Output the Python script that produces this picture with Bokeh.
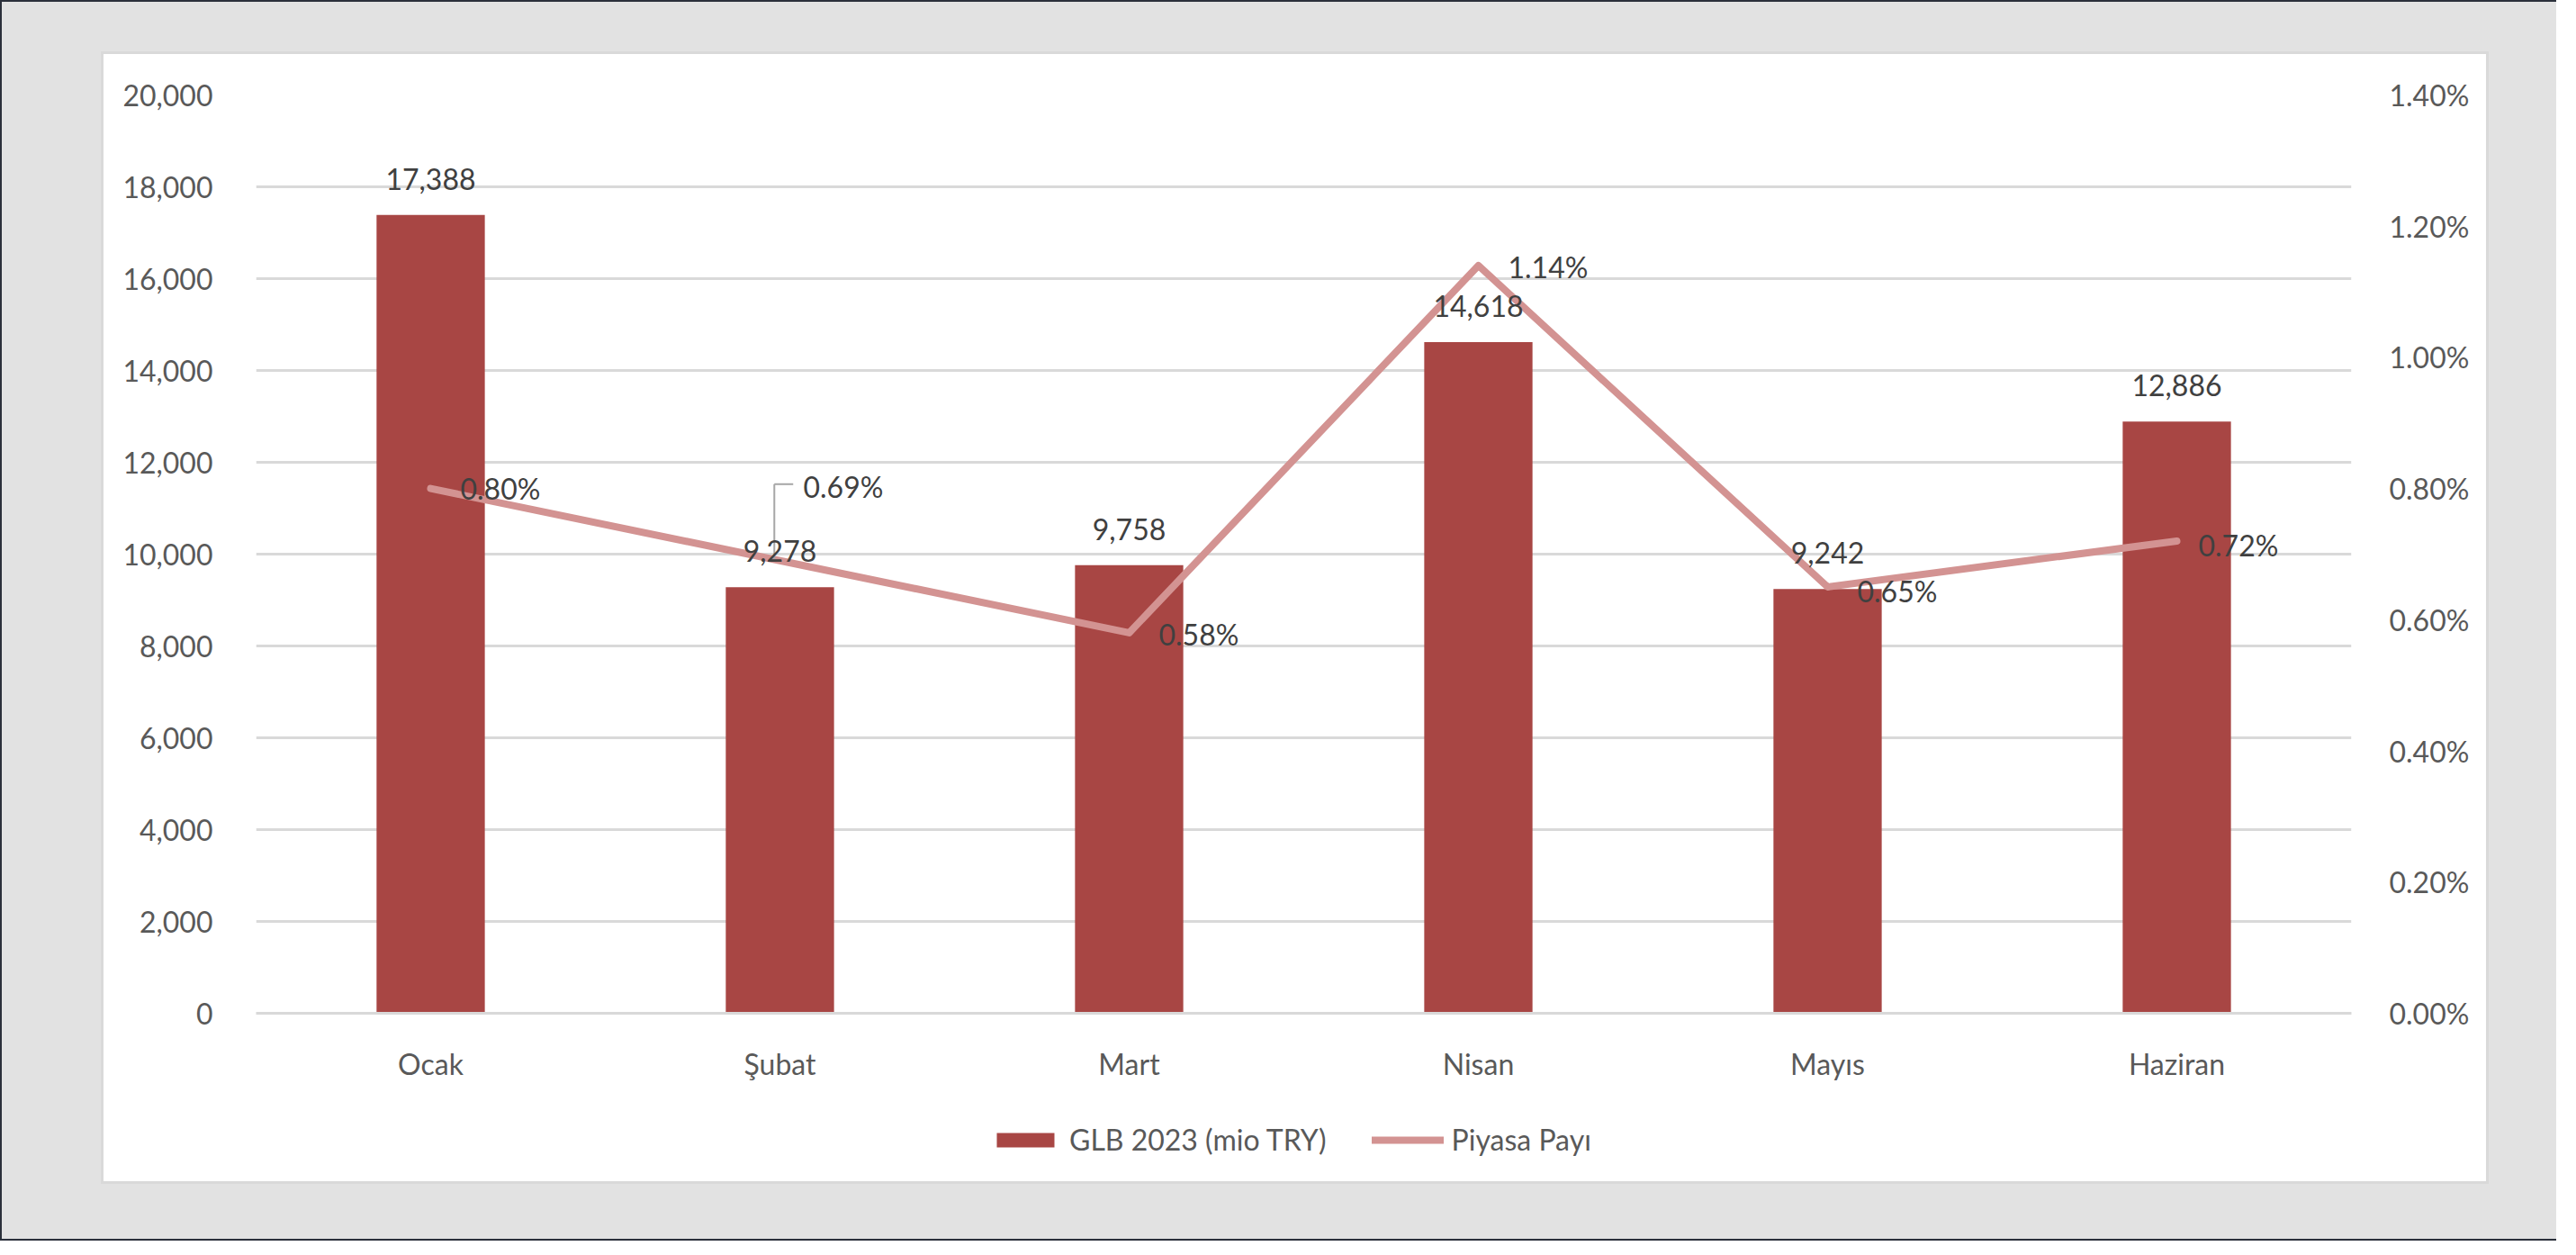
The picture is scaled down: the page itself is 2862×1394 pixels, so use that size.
from bokeh.plotting import figure
from bokeh.models import (Range1d, LinearAxis, FactorRange, FixedTicker,
                          NumeralTickFormatter, PrintfTickFormatter, Legend, LegendItem,
                          ColumnDataSource, Column)
from bokeh.transform import dodge
from bokeh.core.properties import value
from bokeh.embed import file_html
from bokeh.resources import INLINE

months = ["Ocak", "Şubat", "Mart", "Nisan", "Mayıs", "Haziran"]
glb_2023 = [17388, 9278, 9758, 14618, 9242, 12886]
piyasa_payi = [0.80, 0.69, 0.58, 1.14, 0.65, 0.72]  # percent
left_ticks = [0, 2000, 4000, 6000, 8000, 10000, 12000, 14000, 16000, 18000, 20000]
right_ticks = [0.0, 0.2, 0.4, 0.6, 0.8, 1.0, 1.2, 1.4]
bar_labels = [f"{v:,}" for v in glb_2023]
share_labels = [f"{v:.2f}%" for v in piyasa_payi]

# label placement (screen px) for share labels
share_dx = [33, 26, 33, 33, 33, 24]
share_dy = [0, -82, 2, 2, 5, 5]

FONT = "Lato"
BAR_COLOR = "#A84644"
LINE_COLOR = "#D39392"
GRID_COLOR = "#D9D9D9"
TICK_COLOR = "#595959"
LABEL_COLOR = "#404040"
FS = "32px"
FRAME_H = 1020
FIG_W = 169 + 2328 + 150

src = ColumnDataSource(dict(month=months, glb=glb_2023, share=piyasa_payi,
                            blab=bar_labels, slab=share_labels,
                            sdx=share_dx, sdy=share_dy))

p = figure(x_range=FactorRange(*months), y_range=Range1d(0, 20000),
           frame_width=2328, frame_height=FRAME_H,
           output_backend="svg", toolbar_location=None,
           min_border_left=169, min_border_right=150, min_border_top=45,
           min_border_bottom=100)
p.margin = (3, 3, 0, 3)
p.border_fill_color = "white"
p.background_fill_color = "white"
p.outline_line_color = None
p.extra_y_ranges = {"pct": Range1d(0, 1.4)}

# axes
p.yaxis.ticker = FixedTicker(ticks=left_ticks)
p.yaxis.formatter = NumeralTickFormatter(format="0,0")
ax = p.yaxis[0]
ax.axis_line_color = None
ax.major_tick_line_color = None
ax.minor_tick_line_color = None
ax.major_label_standoff = 42
ax.major_label_text_font = FONT
ax.major_label_text_font_size = FS
ax.major_label_text_color = TICK_COLOR

rax = LinearAxis(y_range_name="pct", ticker=FixedTicker(ticks=right_ticks),
                 formatter=PrintfTickFormatter(format="%.2f%%"))
rax.axis_line_color = None
rax.major_tick_line_color = None
rax.minor_tick_line_color = None
rax.major_label_standoff = 36
rax.major_label_text_font = FONT
rax.major_label_text_font_size = FS
rax.major_label_text_color = TICK_COLOR
p.add_layout(rax, "right")

xa = p.xaxis[0]
xa.axis_line_color = GRID_COLOR
xa.axis_line_width = 3
xa.major_tick_line_color = None
xa.minor_tick_line_color = None
xa.major_label_standoff = 30
xa.major_label_text_font = FONT
xa.major_label_text_font_size = FS
xa.major_label_text_color = TICK_COLOR

p.xgrid.grid_line_color = None
p.ygrid.grid_line_color = GRID_COLOR
p.ygrid.grid_line_width = 3
p.ygrid.ticker = FixedTicker(ticks=left_ticks)

bars = p.vbar(x="month", top="glb", width=0.31, source=src,
              fill_color=BAR_COLOR, line_color=None)
line = p.line(x="month", y="share", source=src, y_range_name="pct",
              line_color=LINE_COLOR, line_width=8, line_join="round", line_cap="round")

# leader line for Şubat label
lsrc = ColumnDataSource(dict(month=[months[1]], y0=[piyasa_payi[1]],
                             y1=[piyasa_payi[1] + 85 * 1.4 / FRAME_H]))
p.segment(x0=dodge("month", -0.016, range=p.x_range), y0="y0",
          x1=dodge("month", -0.016, range=p.x_range), y1="y1",
          source=lsrc, y_range_name="pct", line_color="#A6A6A6", line_width=2)
p.segment(x0=dodge("month", -0.016, range=p.x_range), y0="y1",
          x1=dodge("month", 0.038, range=p.x_range), y1="y1",
          source=lsrc, y_range_name="pct", line_color="#A6A6A6", line_width=2)

p.text(x="month", y="glb", text="blab", source=src, text_align="center",
       text_baseline="middle", y_offset=-40, text_font=value(FONT),
       text_font_size=FS, text_color=LABEL_COLOR)
p.text(x="month", y="share", text="slab", source=src, y_range_name="pct",
       text_align="left", text_baseline="middle", x_offset="sdx", y_offset="sdy",
       text_font=value(FONT), text_font_size=FS, text_color=LABEL_COLOR)

# legend strip below the chart (same series as hidden renderers; only the legend shows)
leg = figure(x_range=FactorRange(*months), y_range=Range1d(0, 20000),
             width=FIG_W, height=87,
             output_backend="svg", toolbar_location=None, min_border=0)
leg.margin = (0, 3, 3, 3)
leg.axis.visible = False
leg.grid.visible = False
leg.outline_line_color = None
leg.border_fill_color = None
leg.background_fill_color = None
lbars = leg.vbar(x="month", top="glb", width=0.31, source=src,
                 fill_color=BAR_COLOR, line_color=None)
lline = leg.line(x="month", y="share", source=src,
                 line_color=LINE_COLOR, line_width=8, line_cap="round")
lbars.visible = False
lline.visible = False

legend = Legend(items=[LegendItem(label="GLB 2023 (mio TRY)", renderers=[lbars]),
                       LegendItem(label="Piyasa Payı", renderers=[lline])],
                orientation="horizontal", location=(815, 27))
legend.border_line_color = None
legend.background_fill_alpha = 0
legend.label_text_font = FONT
legend.label_text_font_size = FS
legend.label_text_color = TICK_COLOR
legend.glyph_width = 80
legend.glyph_height = 20
legend.label_standoff = 9
legend.spacing = 50
legend.padding = 0
legend.margin = 0
leg.add_layout(legend, "center")

panel = Column(children=[p, leg], spacing=0, styles={
    "background-color": "white",
    "box-shadow": "inset 0 0 0 3px #D9D9D9",
})
panel.margin = (57, 75, 63, 112)

page = Column(children=[panel], styles={
    "background-color": "#E2E2E2",
    "box-shadow": "inset 2px 0 0 #2B303B, inset 0 2px 0 #2B303B, inset 0 -2px 0 #2B303B",
})

open("out.html", "w").write(file_html(page, INLINE))
